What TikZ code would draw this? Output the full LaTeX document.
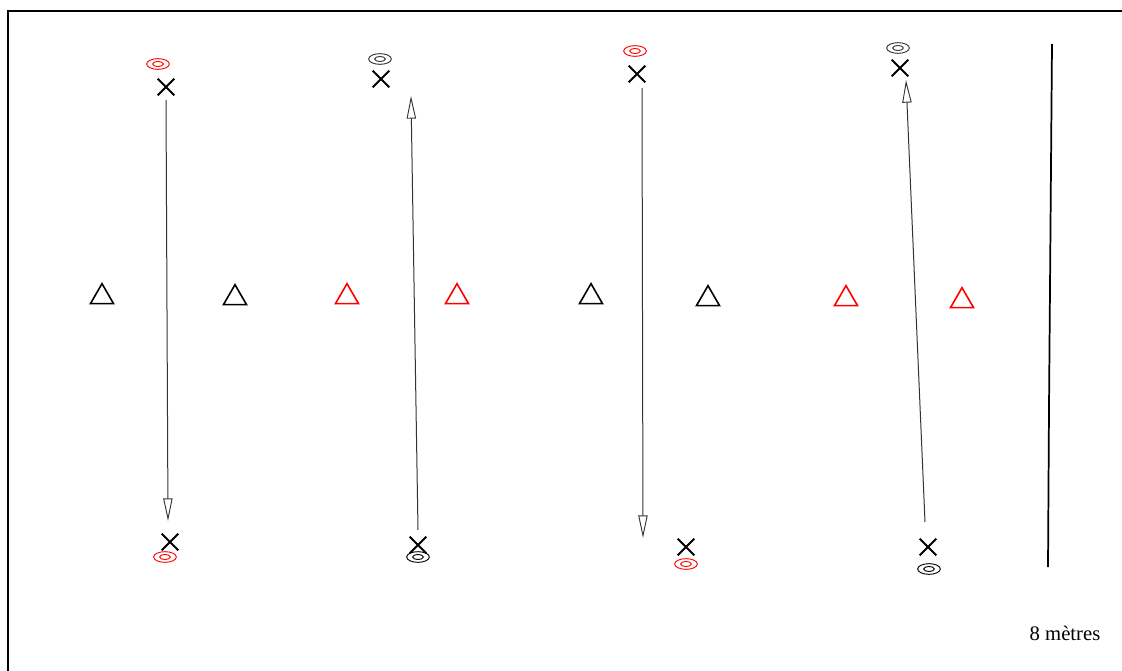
\documentclass[tikz,border=0pt]{standalone}
\usepackage{fontspec}
\setmainfont{Liberation Serif}
\usetikzlibrary{arrows.meta,shapes.geometric,shapes.misc}
\begin{document}
\begin{tikzpicture}[x=0.75pt,y=-0.75pt,
  player/.style={cross out,draw=black,line width=1.5pt,minimum size=11pt,inner sep=0pt},
  cone/.style={ellipse,draw=#1,line width=0.7pt,minimum width=17pt,minimum height=8pt,inner sep=0pt,
     path picture={\draw[#1,line width=0.7pt] (path picture bounding box.center) ellipse (4pt and 1.9pt);}},
  marker/.style={regular polygon,regular polygon sides=3,draw=#1,line width=1.2pt,minimum size=20pt,inner sep=0pt},
  run/.style={draw=black!80,line width=0.75pt,-{Triangle[open,length=17pt,width=7pt,line width=0.7pt]}},
  frame/.style={line width=1.6pt}]
\useasboundingbox (0,0) rectangle (1122,671);
% frame
\coordinate (ftr) at (1122,11);
\coordinate (ftl) at (8,11);
\coordinate (fbl) at (8,671);
\draw[frame] (ftr) -- (ftl) -- (fbl);
% scale line
\coordinate (s1) at (1052,44);
\coordinate (s2) at (1051,166);
\coordinate (s3) at (1050,288);
\coordinate (s4) at (1049,408);
\coordinate (s5) at (1048,567);
\draw[line width=1.3pt] (s1) -- (s2) -- (s3) -- (s4) -- (s5);
% column 1
\node[cone=red] (c1t) at (158,64) {};
\node[player] (p1t) at (166,87) {};
\node[player] (p1b) at (170,542) {};
\node[cone=red] (c1b) at (165,557) {};
\coordinate (a1s) at (166,100);
\coordinate (a1e) at (168,521);
\draw[run] (a1s) -- (a1e);
% column 2
\node[cone=black!80] (c2t) at (380,59) {};
\node[player] (p2t) at (381,79) {};
\node[player] (p2b) at (418,545) {};
\node[cone=black] (c2b) at (418,557) {};
\coordinate (a2s) at (418,530);
\coordinate (a2e) at (411,96);
\draw[run] (a2s) -- (a2e);
% column 3
\node[cone=red] (c3t) at (635,51) {};
\node[player] (p3t) at (637,74) {};
\node[player] (p3b) at (686,547) {};
\node[cone=red] (c3b) at (686,564) {};
\coordinate (a3s) at (642,88);
\coordinate (a3e) at (643,538);
\draw[run] (a3s) -- (a3e);
% column 4
\node[cone=black!80] (c4t) at (898,48) {};
\node[player] (p4t) at (900,68) {};
\node[player] (p4b) at (928,547) {};
\node[cone=black] (c4b) at (929,569) {};
\coordinate (a4s) at (925,522);
\coordinate (a4e) at (906,80);
\draw[run] (a4s) -- (a4e);
% markers
\node[marker=black] (m1) at (102,297) {};
\node[marker=black] (m2) at (235,298) {};
\node[marker=red] (m3) at (347,297) {};
\node[marker=red] (m4) at (457,297) {};
\node[marker=black] (m5) at (591,297) {};
\node[marker=black] (m6) at (708,299) {};
\node[marker=red] (m7) at (846,299) {};
\node[marker=red] (m8) at (962,301) {};
% label
\node[font=\fontsize{15.5}{18}\selectfont,inner sep=0pt] (lbl) at (1065,633) {8 mètres};
\end{tikzpicture}
\end{document}
